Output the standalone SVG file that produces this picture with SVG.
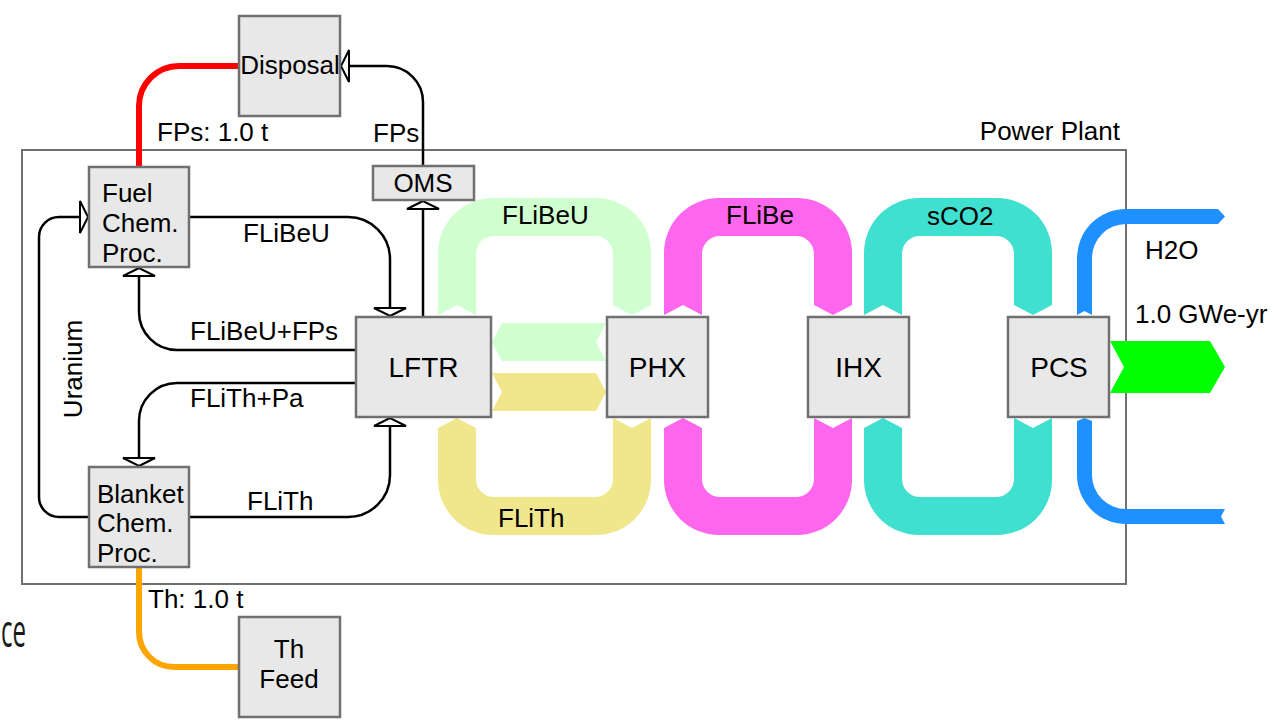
<svg xmlns="http://www.w3.org/2000/svg" width="1274" height="720" viewBox="0 0 1274 720">
<style>
.box{fill:#e8e8e8;stroke:#707070;stroke-width:2.5}
.t{font-family:"Liberation Sans",Arial,sans-serif;font-size:26px;fill:#000}
.big{font-size:28px}
.c{text-anchor:middle}
.ln{fill:none;stroke:#000;stroke-width:2.5}
</style>
<defs>
<marker id="arr" markerUnits="userSpaceOnUse" viewBox="-10 -18 12 36" markerWidth="12" markerHeight="36" refX="0" refY="0" orient="auto">
<path d="M0,0 L-8,-16 L-8,16 Z" fill="#fff" stroke="#000" stroke-width="2"/>
</marker>
</defs>
<rect width="1274" height="720" fill="#fff"/>
<g id="frame">
<rect x="22" y="150" width="1104" height="434" fill="none" stroke="#707070" stroke-width="2"/>
<text class="t" x="1120" y="140" text-anchor="end">Power Plant</text>
</g>
<text x="1" y="647" textLength="25" lengthAdjust="spacingAndGlyphs" style="font-family:'Open Sans',sans-serif;font-size:46px;fill:#1a1a1a">ce</text>
<g id="flows">
<path fill="#d0ffd0" d="M438,315 L438,253 A55,55 0 0 1 493,198 L596,198 A55,55 0 0 1 651,253 L651,305 L632,315 L613,305 L613,254 A18,18 0 0 0 595,236 L494,236 A18,18 0 0 0 476,254 L476,315 L457,305 Z"/>
<path fill="#d0ffd0" d="M492,342 L502,323 L606,323 L596,342 L606,361 L502,361 Z"/>
<path fill="#f0e68c" d="M492,373 L596,373 L606,392 L596,411 L492,411 L502,392 Z"/>
<path fill="#f0e68c" d="M457,418 L476,428 L476,479 A18,18 0 0 0 494,497 L595,497 A18,18 0 0 0 613,479 L613,418 L632,428 L651,418 L651,480 A55,55 0 0 1 596,535 L493,535 A55,55 0 0 1 438,480 L438,428 Z"/>
<path fill="#ff66ee" d="M664,315 L664,253 A55,55 0 0 1 719,198 L797,198 A55,55 0 0 1 852,253 L852,305 L833,315 L814,305 L814,254 A18,18 0 0 0 796,236 L720,236 A18,18 0 0 0 702,254 L702,315 L683,305 Z"/>
<path fill="#ff66ee" d="M683,418 L702,428 L702,479 A18,18 0 0 0 720,497 L796,497 A18,18 0 0 0 814,479 L814,418 L833,428 L852,418 L852,480 A55,55 0 0 1 797,535 L719,535 A55,55 0 0 1 664,480 L664,428 Z"/>
<path fill="#40e0d0" d="M864,315 L864,253 A55,55 0 0 1 919,198 L997,198 A55,55 0 0 1 1052,253 L1052,305 L1033,315 L1014,305 L1014,254 A18,18 0 0 0 996,236 L920,236 A18,18 0 0 0 902,254 L902,315 L883,305 Z"/>
<path fill="#40e0d0" d="M883,418 L902,428 L902,479 A18,18 0 0 0 920,497 L996,497 A18,18 0 0 0 1014,479 L1014,418 L1033,428 L1052,418 L1052,480 A55,55 0 0 1 997,535 L919,535 A55,55 0 0 1 864,480 L864,428 Z"/>
<path fill="#1e90ff" d="M1077,315 L1077,258 A49,49 0 0 1 1126,209 L1218,209 L1225,216.5 L1218,224 L1126,224 A34,34 0 0 0 1092,258 L1092,315 L1084.5,311 Z"/>
<path fill="#1e90ff" d="M1084.5,418 L1092,421 L1092,475 A34,34 0 0 0 1126,509 L1225,509 L1221,516.5 L1225,524 L1126,524 A49,49 0 0 1 1077,475 L1077,421 Z"/>
<path fill="#00ff00" d="M1110,341 L1210,341 L1225,367 L1210,393 L1110,393 L1124,367 Z"/>
<text class="t" x="502" y="224">FLiBeU</text>
<text class="t" x="726" y="224">FLiBe</text>
<text class="t" x="927" y="225">sCO2</text>
<text class="t" x="498" y="527">FLiTh</text>
<text class="t" x="1145" y="259">H2O</text>
<text class="t" x="1135" y="323">1.0 GWe-yr</text>
</g>
<g id="connectors">
<path d="M139,166 L139,106 A40,40 0 0 1 179,66 L239,66" fill="none" stroke="#ff0000" stroke-width="6"/>
<path d="M139,567 L139,632 A35,35 0 0 0 174,667 L239,667" fill="none" stroke="#ffa500" stroke-width="6"/>
<path class="ln" d="M189,217 L348,217 A42,42 0 0 1 390,259 L390,316" marker-end="url(#arr)"/>
<path class="ln" d="M356,350 L177,350 A38,38 0 0 1 139,312 L139,268" marker-end="url(#arr)"/>
<path class="ln" d="M356,383 L177,383 A38,38 0 0 0 139,421 L139,466" marker-end="url(#arr)"/>
<path class="ln" d="M189,517 L348,517 A42,42 0 0 0 390,475 L390,418" marker-end="url(#arr)"/>
<path class="ln" d="M89,517 L59,517 A20,20 0 0 1 39,497 L39,237 A20,20 0 0 1 59,217 L88,217" marker-end="url(#arr)"/>
<path class="ln" d="M423,317 L423,201" marker-end="url(#arr)"/>
<path class="ln" d="M423,166 L423,102 A36,36 0 0 0 387,66 L341,66" marker-end="url(#arr)"/>
<text class="t" x="157" y="141">FPs: 1.0 t</text>
<text class="t" x="373" y="142">FPs</text>
<text class="t" x="243" y="242">FLiBeU</text>
<text class="t" x="190" y="340">FLiBeU+FPs</text>
<text class="t" x="190" y="407">FLiTh+Pa</text>
<text class="t" x="247" y="510">FLiTh</text>
<text class="t c" transform="translate(82,369) rotate(-90)">Uranium</text>
<text class="t" x="148" y="608">Th: 1.0 t</text>
</g>
<g id="disposal"><rect class="box" x="239" y="16" width="101" height="100"/><text class="t c" x="290" y="74">Disposal</text></g>
<g id="fuel"><rect class="box" x="89" y="167" width="100" height="100"/><text class="t" x="102" y="202">Fuel</text><text class="t" x="102" y="232">Chem.</text><text class="t" x="102" y="262">Proc.</text></g>
<g id="oms"><rect class="box" x="373" y="166" width="101" height="34"/><text class="t c" x="423" y="192">OMS</text></g>
<g id="lftr"><rect class="box" x="356" y="317" width="135" height="100"/><text class="t big c" x="423.5" y="377">LFTR</text></g>
<g id="phx"><rect class="box" x="607" y="317" width="101" height="100"/><text class="t big c" x="657.5" y="377">PHX</text></g>
<g id="ihx"><rect class="box" x="808" y="317" width="101" height="100"/><text class="t big c" x="858.5" y="377">IHX</text></g>
<g id="pcs"><rect class="box" x="1008" y="317" width="101" height="100"/><text class="t big c" x="1059" y="377">PCS</text></g>
<g id="blanket"><rect class="box" x="89" y="467" width="100" height="100"/><text class="t" x="97" y="503">Blanket</text><text class="t" x="97" y="532">Chem.</text><text class="t" x="97" y="562">Proc.</text></g>
<g id="thfeed"><rect class="box" x="239" y="617" width="101" height="100"/><text class="t c" x="289" y="658">Th</text><text class="t c" x="289" y="688">Feed</text></g>
</svg>
